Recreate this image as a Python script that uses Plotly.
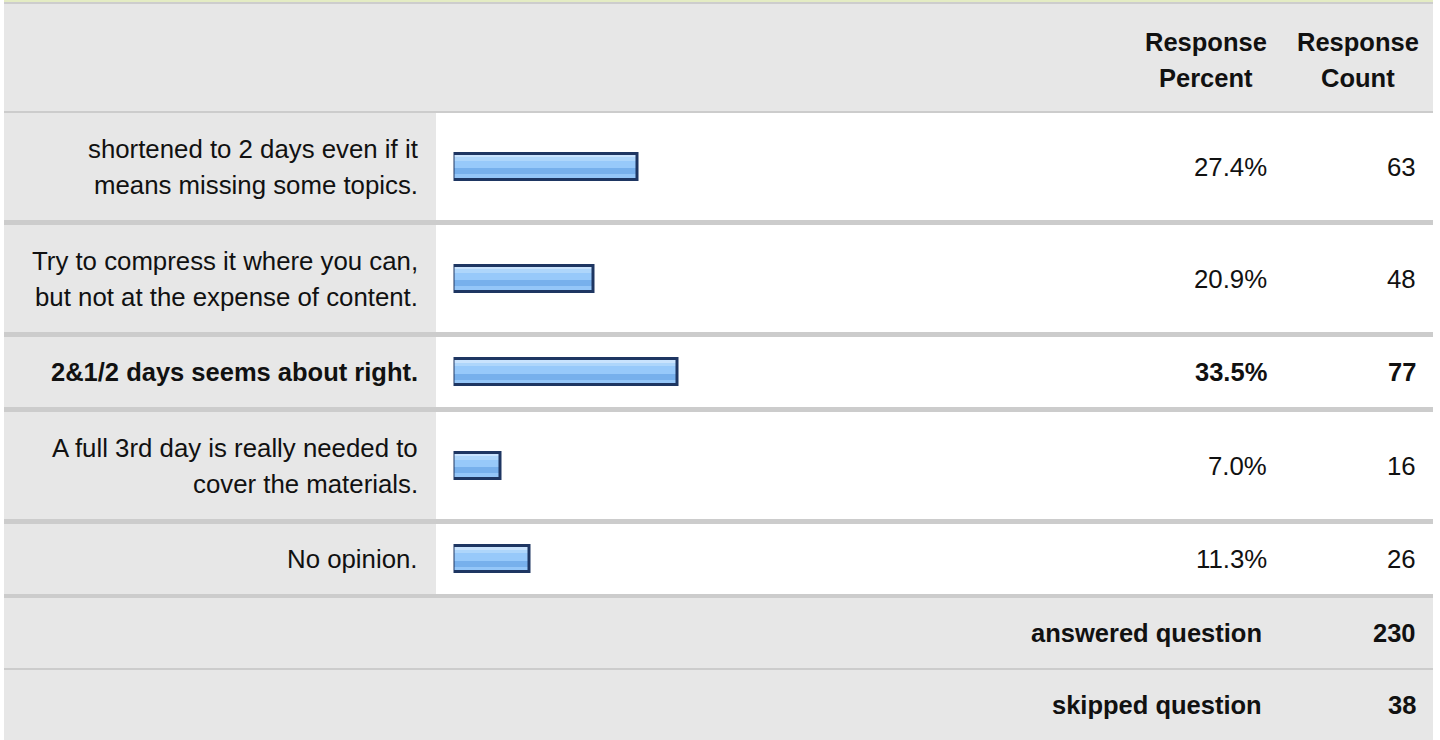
import plotly.graph_objects as go

# ---- survey results -------------------------------------------------------
answers = [
    "shortened to 2 days even if it\nmeans missing some topics.",
    "Try to compress it where you can,\nbut not at the expense of content.",
    "2&1/2 days seems about right.",
    "A full 3rd day is really needed to\ncover the materials.",
    "No opinion.",
]
percents = [27.4, 20.9, 33.5, 7.0, 11.3]
counts = [63, 48, 77, 16, 26]
summary_labels = ["answered question", "skipped question"]
summary_counts = [230, 38]
header_percent = ["Response", "Percent"]
header_count = ["Response", "Count"]

# ---- page geometry (pixels) -----------------------------------------------
W, H = 1440, 740
LEFT, RIGHT = 4, 1433          # table edges
LABEL_EDGE = 436               # end of the grey label column
BAR_ZERO, BAR_SPAN = 453.5, 670  # x pixel of 0 % and width of 100 %

HEADER = (4, 111)
ROWS = [(113, 220), (225, 332), (337, 407), (412, 519), (524, 594)]
SUMMARY = [(598, 668), (670, 740)]
SEPARATORS = [(111, 113), (220, 225), (332, 337), (407, 412),
              (519, 524), (594, 598), (668, 670)]

GREY = "#e7e7e7"
RULE = "#cccccc"
FONT = "Liberation Sans, Arial, Helvetica, sans-serif"
FS_BOLD = 25.5
FS_REG = 25.8
LINE = 36
INK = "#111111"


def px(x):
    return x / W


top_idx = percents.index(max(percents))

fig = go.Figure()

# cell backgrounds and rules
shapes = []


def rect(x0, x1, y0, y1, color):
    shapes.append(dict(type="rect", xref="paper", yref="y", layer="below",
                       x0=px(x0), x1=px(x1), y0=y0, y1=y1,
                       fillcolor=color, line=dict(width=0)))


rect(LEFT, RIGHT, 0, 2, "#e4ecc4")
rect(LEFT, RIGHT, 2, 4, "#cdcdcd")
rect(LEFT, RIGHT, HEADER[0], HEADER[1], GREY)
for y0, y1 in ROWS:
    rect(LEFT, LABEL_EDGE, y0, y1, GREY)
for y0, y1 in SUMMARY:
    rect(LEFT, RIGHT, y0, y1, GREY)
for y0, y1 in SEPARATORS:
    rect(LEFT, RIGHT, y0, y1, RULE)

# ---- bars: glossy stripes underneath, dark outline on top ------------------
centers = [(a + b) / 2 for a, b in ROWS]
stripes = [  # (top offset, bottom offset, colour) relative to bar centre
    (-12.5, -9.5, "#c9e3fd"),
    (-9.5, -6.0, "#aed6fb"),
    (-6.0, 1.5, "#97c9fa"),
    (1.5, 7.5, "#77b0ec"),
    (7.5, 12.5, "#94c6f8"),
]
for t, b, c in stripes:
    fig.add_trace(go.Bar(
        x=percents, y=[yc + (t + b) / 2 for yc in centers], base=0,
        width=b - t, orientation="h",
        marker=dict(color=c, line=dict(width=0)),
        hoverinfo="skip", showlegend=False))
fig.add_trace(go.Bar(
    x=percents, y=centers, base=0, width=26, orientation="h",
    marker=dict(color="rgba(0,0,0,0)", line=dict(color="#1e3662", width=3)),
    hoverinfo="skip", showlegend=False))

# ---- text ------------------------------------------------------------------
ann = []


def text(x, y, s, anchor="right", bold=False):
    ann.append(dict(xref="paper", yref="y", x=px(x), y=y,
                    text=f"<b>{s}</b>" if bold else s,
                    xanchor=anchor, yanchor="middle", showarrow=False,
                    font=dict(family=FONT, size=FS_BOLD if bold else FS_REG,
                              color=INK)))


def lines_at(x, yc, s, anchor="right", bold=False):
    parts = s.split("\n")
    n = len(parts)
    for i, p in enumerate(parts):
        text(x, yc + (i - (n - 1) / 2) * LINE, p, anchor, bold)


hc = 59.5
lines_at(1206, hc, "\n".join(header_percent), "center", True)
lines_at(1358, hc, "\n".join(header_count), "center", True)

for i, (label, pct, cnt) in enumerate(zip(answers, percents, counts)):
    yc = centers[i]
    bold = i == top_idx
    lines_at(420, yc, label, "right", bold)
    text(1269, yc, f"{pct:.1f}%", "right", bold)
    text(1418, yc, str(cnt), "right", bold)

for (y0, y1), lab, cnt in zip(SUMMARY, summary_labels, summary_counts):
    yc = (y0 + y1) / 2
    text(1264, yc, lab, "right", True)
    text(1418, yc, str(cnt), "right", True)

fig.update_layout(
    width=W, height=H,
    margin=dict(l=0, r=0, t=0, b=0),
    paper_bgcolor="white", plot_bgcolor="rgba(0,0,0,0)",
    barmode="overlay", bargap=0,
    shapes=shapes, annotations=ann,
    xaxis=dict(domain=[px(BAR_ZERO), px(BAR_ZERO + BAR_SPAN)], range=[0, 100],
               visible=False, fixedrange=True),
    yaxis=dict(domain=[0, 1], range=[H, 0], visible=False, fixedrange=True),
    showlegend=False,
)

fig.write_html("out.html", config={"displayModeBar": False})
